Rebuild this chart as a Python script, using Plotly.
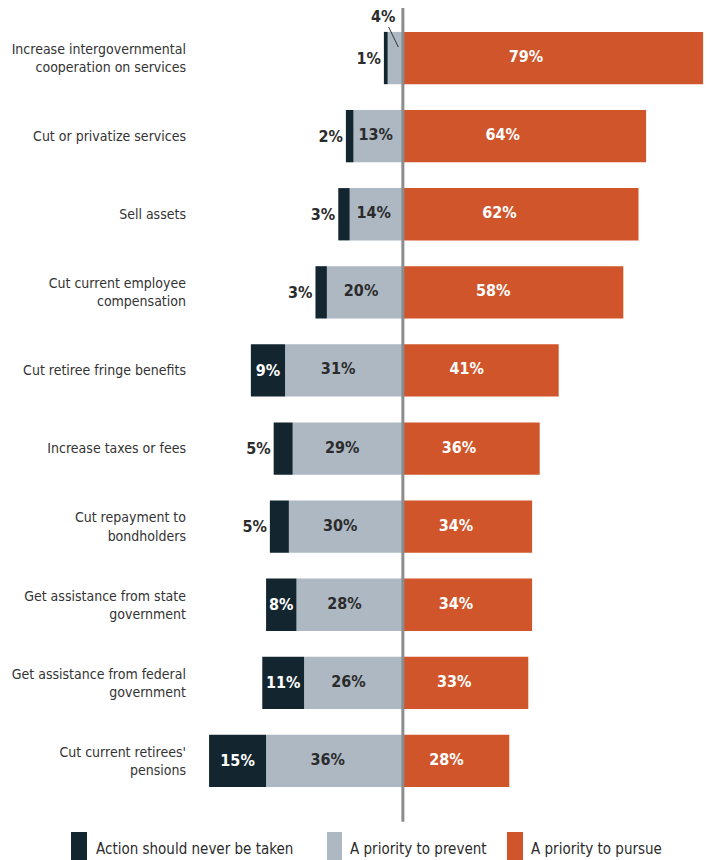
import plotly.graph_objects as go

categories = [
    "Increase intergovernmental<br>cooperation on services",
    "Cut or privatize services",
    "Sell assets",
    "Cut current employee<br>compensation",
    "Cut retiree fringe benefits",
    "Increase taxes or fees",
    "Cut repayment to<br>bondholders",
    "Get assistance from state<br>government",
    "Get assistance from federal<br>government",
    "Cut current retirees'<br>pensions",
]
never = [1, 2, 3, 3, 9, 5, 5, 8, 11, 15]
prevent = [4, 13, 14, 20, 31, 29, 30, 28, 26, 36]
pursue = [79, 64, 62, 58, 41, 36, 34, 34, 33, 28]
series_names = ["Action should never be taken", "A priority to prevent", "A priority to pursue"]

C_DARK = "#13262f"
C_GRAY = "#adb8c3"
C_ORANGE = "#d1552a"
C_LINE = "#8b8b90"
FONT = "DejaVu Sans Condensed, Liberation Sans Narrow, sans-serif"
BAR_W = 0.67
NUM_SIZE = 16

fig = go.Figure()

# Priority to prevent (left of centre)
fig.add_trace(go.Bar(
    y=categories, x=[-v for v in prevent], base=0, orientation="h", width=BAR_W,
    marker=dict(color=C_GRAY, line=dict(width=0)),
    name=series_names[1], hoverinfo="skip", showlegend=False,
))
# Never be taken (further left)
fig.add_trace(go.Bar(
    y=categories, x=[-v for v in never], base=[-p for p in prevent], orientation="h", width=BAR_W,
    marker=dict(color=C_DARK, line=dict(width=0)),
    text=[f"{v}%" for v in never],
    textposition=["inside" if v >= 7 else "outside" for v in never],
    insidetextanchor="middle", textangle=0,
    textfont=dict(family=FONT, size=NUM_SIZE,
                  color=["#ffffff" if v >= 7 else "#2b2b2b" for v in never], weight="bold"),
    cliponaxis=False,
    name=series_names[0], hoverinfo="skip", showlegend=False,
))
# Pursue (right)
fig.add_trace(go.Bar(
    y=categories, x=pursue, base=0, orientation="h", width=BAR_W,
    marker=dict(color=C_ORANGE, line=dict(width=0)),
    name=series_names[2], hoverinfo="skip", showlegend=False,
))

# value labels for prevent and pursue
idx_big = [i for i, v in enumerate(prevent) if v >= 7]
fig.add_trace(go.Scatter(
    y=[categories[i] for i in idx_big], x=[-prevent[i] * 0.55 for i in idx_big],
    mode="text", text=[f"{prevent[i]}%" for i in idx_big],
    textfont=dict(family=FONT, size=NUM_SIZE, color="#2b2b2b", weight="bold"),
    hoverinfo="skip", showlegend=False, cliponaxis=False,
))
fig.add_trace(go.Scatter(
    y=categories, x=[v * 0.41 for v in pursue],
    mode="text", text=[f"{v}%" for v in pursue],
    textfont=dict(family=FONT, size=NUM_SIZE, color="#ffffff", weight="bold"),
    hoverinfo="skip", showlegend=False, cliponaxis=False,
))

# small "4%" label with leader line
fig.add_annotation(
    x=-prevent[0] * 0.3, y=0, yshift=11, xref="x", yref="y",
    text=f"<b>{prevent[0]}%</b>", showarrow=True, arrowhead=0, arrowwidth=1, arrowcolor="#333",
    ax=-15, ay=-31, font=dict(family=FONT, size=NUM_SIZE, color="#2b2b2b"),
)

# centre line
fig.add_shape(type="line", xref="x", yref="paper", x0=0, x1=0, y0=-0.028, y1=1.014,
              line=dict(color=C_LINE, width=3), layer="above")

# manual legend
legend_items = [
    (series_names[0], C_DARK, -0.2394, -0.2085, -0.1950),
    (series_names[1], C_GRAY, 0.2548, 0.2838, 0.2954),
    (series_names[2], C_ORANGE, 0.6023, 0.6332, 0.6448),
]
for name, col, x0, x1, xt in legend_items:
    fig.add_shape(type="rect", xref="paper", yref="paper", x0=x0, x1=x1, y0=-0.0768, y1=-0.041,
                  fillcolor=col, line=dict(width=0))
    fig.add_annotation(xref="paper", yref="paper", x=xt, y=-0.0627, text=name, showarrow=False,
                       xanchor="left", yanchor="middle",
                       font=dict(family=FONT, size=15, color="#2b2b2b"))

fig.update_layout(
    width=705, height=852,
    margin=dict(l=187, r=0, t=11, b=60),
    paper_bgcolor="white", plot_bgcolor="white",
    barmode="overlay",
    showlegend=False,
    font=dict(family=FONT, color="#333333"),
    xaxis=dict(range=[-54.7, 81.6], visible=False, fixedrange=True),
    yaxis=dict(categoryorder="array", categoryarray=categories, autorange="reversed",
               showgrid=False, zeroline=False, showline=False, ticks="",
               ticklabelstandoff=8, tickfont=dict(family=FONT, size=14, color="#333333")),
)

fig.write_html("out.html")
